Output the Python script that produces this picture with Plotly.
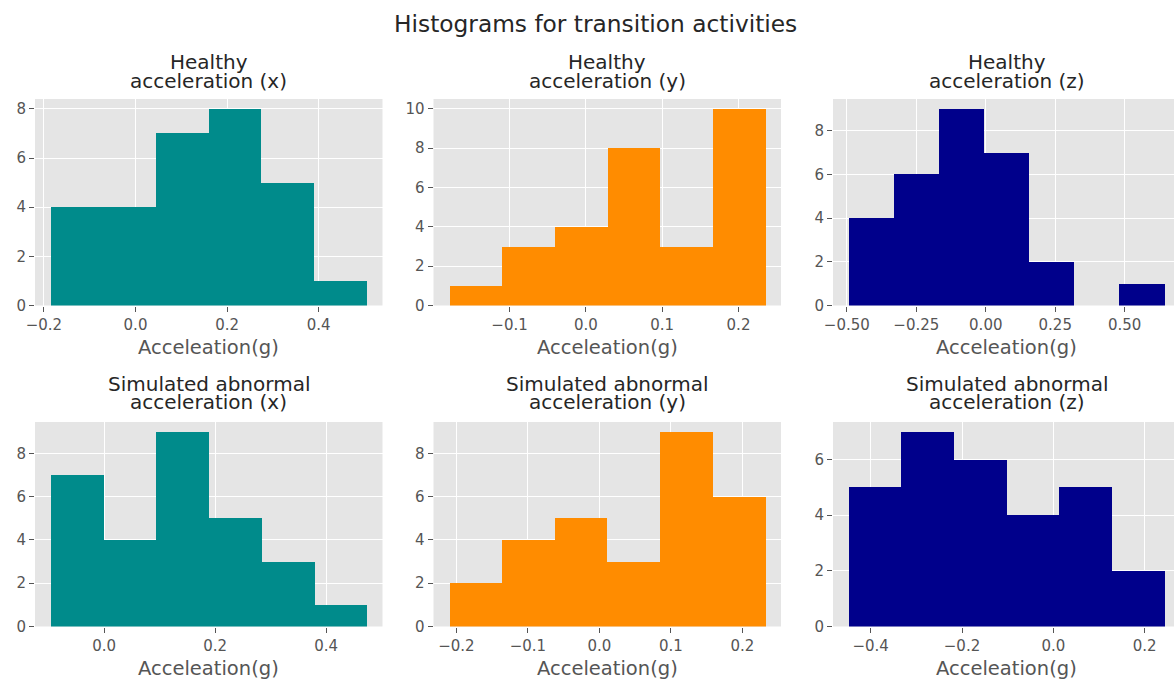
import plotly.graph_objects as go

# ---- text ---------------------------------------------------------------
fig_title = "Histograms for transition activities"
x_label = "Acceleation(g)"
panel_titles = [
    ("Healthy", "acceleration (x)"),
    ("Healthy", "acceleration (y)"),
    ("Healthy", "acceleration (z)"),
    ("Simulated abnormal", "acceleration (x)"),
    ("Simulated abnormal", "acceleration (y)"),
    ("Simulated abnormal", "acceleration (z)"),
]

# ---- histogram bins (edges) and counts ----------------------------------
healthy_x_edges = [-0.185, -0.070, 0.045, 0.160, 0.275, 0.390, 0.505]
healthy_x_counts = [4, 4, 7, 8, 5, 1]

healthy_y_edges = [-0.179, -0.110, -0.041, 0.028, 0.097, 0.166, 0.235]
healthy_y_counts = [1, 3, 4, 8, 3, 10]

healthy_z_edges = [-0.493, -0.331, -0.168, -0.006, 0.157, 0.319, 0.481, 0.644]
healthy_z_counts = [4, 6, 9, 7, 2, 0, 1]

abnormal_x_edges = [-0.096, -0.001, 0.094, 0.189, 0.284, 0.379, 0.473]
abnormal_x_counts = [7, 4, 9, 5, 3, 1]

abnormal_y_edges = [-0.210, -0.137, -0.063, 0.010, 0.084, 0.158, 0.232]
abnormal_y_counts = [2, 4, 5, 3, 9, 6]

abnormal_z_edges = [-0.448, -0.333, -0.217, -0.102, 0.013, 0.128, 0.244]
abnormal_z_counts = [5, 7, 6, 4, 5, 2]

# ---- tick values ----------------------------------------------------------
x_tickvals = [
    [-0.2, 0.0, 0.2, 0.4],
    [-0.1, 0.0, 0.1, 0.2],
    [-0.5, -0.25, 0.0, 0.25, 0.5],
    [0.0, 0.2, 0.4],
    [-0.2, -0.1, 0.0, 0.1, 0.2],
    [-0.4, -0.2, 0.0, 0.2],
]
x_tickformats = [".1f", ".1f", ".2f", ".1f", ".1f", ".1f"]
y_tickvals = [
    [0, 2, 4, 6, 8],
    [0, 2, 4, 6, 8, 10],
    [0, 2, 4, 6, 8],
    [0, 2, 4, 6, 8],
    [0, 2, 4, 6, 8],
    [0, 2, 4, 6],
]

colors = ["darkcyan", "darkorange", "darkblue"]

panels = [
    (healthy_x_edges, healthy_x_counts),
    (healthy_y_edges, healthy_y_counts),
    (healthy_z_edges, healthy_z_counts),
    (abnormal_x_edges, abnormal_x_counts),
    (abnormal_y_edges, abnormal_y_counts),
    (abnormal_z_edges, abnormal_z_counts),
]

# ---- page geometry (pixels) ---------------------------------------------
W, H = 1174, 682
col_left = [35.0, 433.5, 833.0]
col_w = 347.5
row_top = [99.0, 422.0]
row_bot = [305.5, 626.5]
title_base = [[69.0, 87.5], [390.5, 409.0]]   # baselines of the two title lines
label_base = [354.5, 675.5]                   # baselines of the x labels

TEXT = "#262626"
GREY = "#555555"
FONT = "DejaVu Sans"
TITLE_SIZE = 20
LABEL_SIZE = 19.5
SUPTITLE_SIZE = 23.3


def px_x(v):
    return v / W


def px_y(v):
    return 1 - v / H


def mid_from_baseline(base, size):
    # vertical centre of a single text line whose baseline sits at `base`
    return px_y(base - 0.345 * size)


fig = go.Figure()
layout = dict(
    template="none",
    width=W,
    height=H,
    autosize=False,
    margin=dict(l=0, r=0, t=0, b=0, pad=0),
    paper_bgcolor="white",
    plot_bgcolor="#E5E5E5",
    showlegend=False,
    font=dict(family=FONT, color=GREY, size=15),
    bargap=0,
)
annotations = []

for i, (edges, counts) in enumerate(panels):
    r, c = divmod(i, 3)
    n = "" if i == 0 else str(i + 1)
    centers = [(a + b) / 2 for a, b in zip(edges[:-1], edges[1:])]
    widths = [b - a for a, b in zip(edges[:-1], edges[1:])]
    fig.add_trace(
        go.Bar(
            x=centers,
            y=counts,
            width=widths,
            marker=dict(color=colors[c], line=dict(width=0)),
            xaxis="x" + n,
            yaxis="y" + n,
            hoverinfo="x+y",
        )
    )

    # 5% padding on both sides of the bins, like the usual autoscale
    span = edges[-1] - edges[0]
    lo = edges[0] - 0.05 * span
    hi = edges[-1] + 0.05 * span
    left = col_left[c]
    right = left + col_w
    if right > W:
        # keep the same data scale, clip the axis at the page edge
        hi = lo + (hi - lo) * (W - left) / col_w
        right = W

    layout["xaxis" + n] = dict(
        domain=[px_x(left), px_x(right)],
        anchor="y" + n,
        range=[lo, hi],
        automargin=False,
        tickvals=x_tickvals[i],
        tickformat=x_tickformats[i],
        ticks="outside",
        ticklen=5,
        tickwidth=1,
        tickcolor=GREY,
        tickfont=dict(size=15, color=GREY, family=FONT),
        showgrid=True,
        gridcolor="white",
        gridwidth=1,
        zeroline=False,
        showline=False,
    )
    ymax = max(counts) * 1.05
    layout["yaxis" + n] = dict(
        domain=[px_y(row_bot[r]), px_y(row_top[r])],
        anchor="x" + n,
        range=[0, ymax],
        automargin=False,
        tickvals=y_tickvals[i],
        ticks="outside",
        ticklen=5,
        tickwidth=1,
        tickcolor=GREY,
        tickfont=dict(size=15, color=GREY, family=FONT),
        showgrid=True,
        gridcolor="white",
        gridwidth=1,
        zeroline=False,
        showline=False,
    )

    cx = px_x(col_left[c] + col_w / 2)
    for line, base in zip(panel_titles[i], title_base[r]):
        annotations.append(
            dict(
                text=line,
                x=cx,
                y=mid_from_baseline(base, TITLE_SIZE),
                xref="paper",
                yref="paper",
                xanchor="center",
                yanchor="middle",
                showarrow=False,
                font=dict(size=TITLE_SIZE, color=TEXT, family=FONT),
            )
        )
    annotations.append(
        dict(
            text=x_label,
            x=cx,
            y=mid_from_baseline(label_base[r], LABEL_SIZE),
            xref="paper",
            yref="paper",
            xanchor="center",
            yanchor="middle",
            showarrow=False,
            font=dict(size=LABEL_SIZE, color=GREY, family=FONT),
        )
    )

annotations.append(
    dict(
        text=fig_title,
        x=px_x(595),
        y=mid_from_baseline(31.3, SUPTITLE_SIZE),
        xref="paper",
        yref="paper",
        xanchor="center",
        yanchor="middle",
        showarrow=False,
        font=dict(size=SUPTITLE_SIZE, color=TEXT, family=FONT),
    )
)

layout["annotations"] = annotations
fig.update_layout(**layout)
fig.write_html("out.html")
